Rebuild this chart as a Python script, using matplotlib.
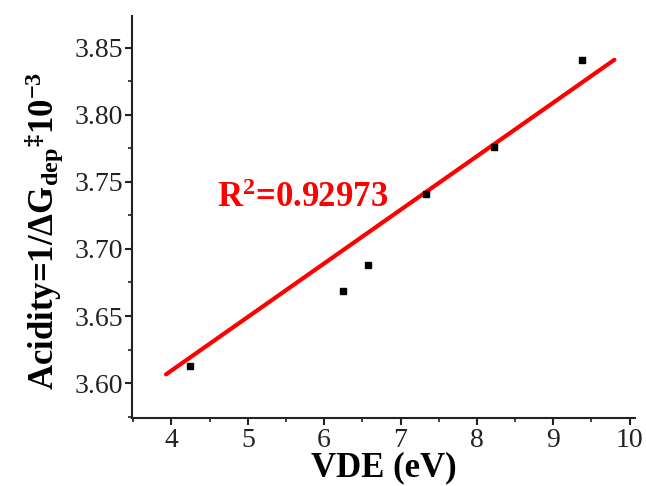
import matplotlib
matplotlib.use('Agg')
import matplotlib.pyplot as plt
from matplotlib.ticker import MultipleLocator

# data
vde = [4.24, 6.25, 6.58, 7.34, 8.22, 9.37]
acidity = [3.613, 3.669, 3.688, 3.741, 3.776, 3.841]

# fitted line end points
fit_x = [3.93, 9.80]
fit_y = [3.6065, 3.841]

r2_text = r'R$^{2}$=0.92973'

plt.rcParams['font.family'] = 'Liberation Serif'
plt.rcParams['mathtext.fontset'] = 'custom'
plt.rcParams['mathtext.rm'] = 'Liberation Serif:bold'
plt.rcParams['mathtext.bf'] = 'Liberation Serif:bold'
plt.rcParams['mathtext.it'] = 'Liberation Serif:bold'

fig = plt.figure(figsize=(6.46, 4.86), dpi=100)
ax = fig.add_axes([0.205, 0.14, 0.778, 0.827])

ax.plot(fit_x, fit_y, color='red', lw=3, solid_capstyle='round')
ax.plot(vde, acidity, 's', color='black', ms=4.5)

ax.text(4.6, 3.731, r2_text, color='red', fontsize=25, fontweight='bold')

ax.set_xlim(3.49, 10.07)
ax.set_ylim(3.574, 3.8736)
ax.xaxis.set_major_locator(MultipleLocator(1))
ax.xaxis.set_minor_locator(MultipleLocator(0.5))
ax.yaxis.set_major_locator(MultipleLocator(0.05))
ax.yaxis.set_minor_locator(MultipleLocator(0.025))
ax.yaxis.set_major_formatter(plt.FormatStrFormatter('%.2f'))

for s in ['top', 'right']:
    ax.spines[s].set_visible(False)
for s in ['left', 'bottom']:
    ax.spines[s].set_linewidth(1.5)
    ax.spines[s].set_color('#222222')

ax.tick_params(which='major', direction='out', length=5, width=1.5, labelsize=20, colors='#222222', pad=2)
ax.tick_params(which='minor', direction='out', length=3, width=1.2, colors='#222222')

ax.set_xlabel('VDE (eV)', fontsize=25, fontweight='bold', labelpad=-1)
ax.set_ylabel(r'Acidity=1/$\Delta$G$_{dep}$$^{\ddag}$10$^{-3}$', fontsize=25, fontweight='bold')
ax.yaxis.set_label_coords(-0.135, 0.465)

fig.savefig('out.png', dpi=100)
